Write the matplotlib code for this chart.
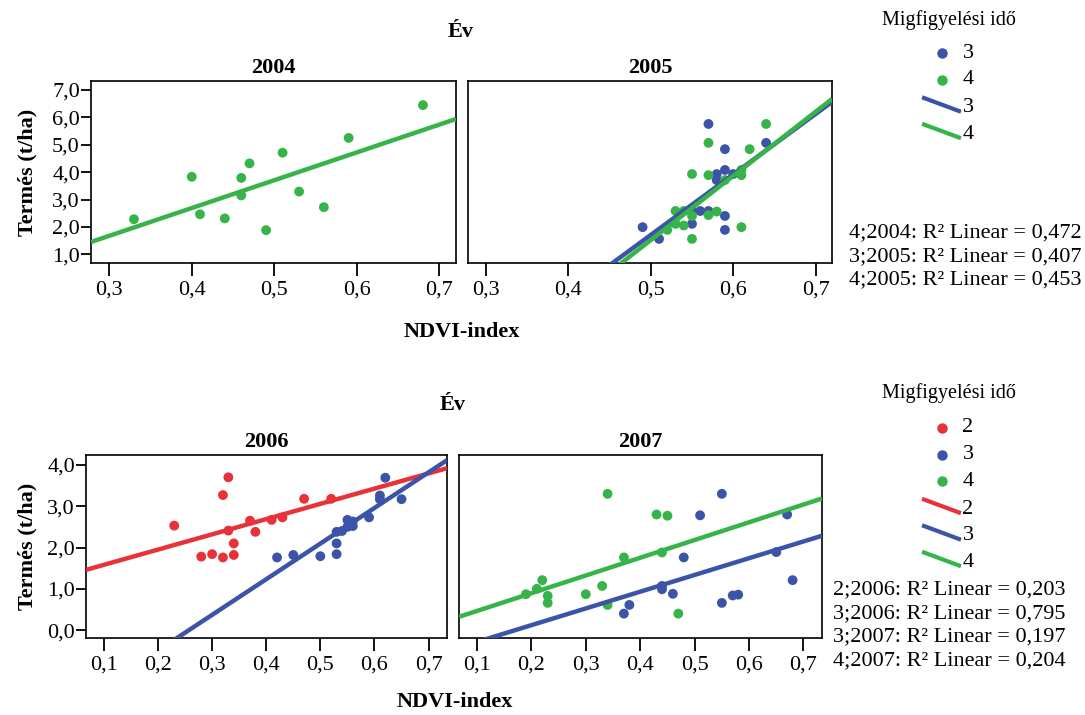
import numpy as np
import matplotlib
matplotlib.use("Agg")
import matplotlib.pyplot as plt
from matplotlib.lines import Line2D
from matplotlib.ticker import FuncFormatter

plt.rcParams["font.family"] = ["Liberation Serif", "DejaVu Serif"]

# --- data ---
ndvi_2004_4 = [0.33, 0.40, 0.41, 0.44, 0.46, 0.46, 0.47, 0.49, 0.51, 0.53, 0.56, 0.59, 0.68]
yield_2004_4 = [2.28, 3.83, 2.46, 2.31, 3.79, 3.15, 4.32, 1.88, 4.71, 3.29, 2.72, 5.25, 6.45]

ndvi_2005_3 = [0.49, 0.51, 0.55, 0.55, 0.56, 0.57, 0.57, 0.58, 0.58, 0.59, 0.59, 0.59, 0.59, 0.60, 0.64]
yield_2005_3 = [1.99, 1.56, 2.11, 2.58, 2.58, 2.58, 5.76, 3.93, 3.71, 4.84, 4.08, 2.40, 1.89, 3.93, 5.07]

ndvi_2005_4 = [0.52, 0.53, 0.53, 0.54, 0.54, 0.55, 0.55, 0.55, 0.57, 0.57, 0.57, 0.58, 0.59, 0.61, 0.61, 0.61, 0.62, 0.64]
yield_2005_4 = [1.89, 2.58, 2.11, 2.58, 2.05, 3.93, 2.40, 1.56, 5.07, 3.89, 2.43, 2.56, 3.71, 4.08, 3.89, 1.99, 4.84, 5.76]

ndvi_2006_2 = [0.23, 0.28, 0.30, 0.32, 0.32, 0.33, 0.33, 0.34, 0.34, 0.37, 0.38, 0.41, 0.43, 0.47, 0.52]
yield_2006_2 = [2.53, 1.78, 1.84, 3.27, 1.76, 3.70, 2.41, 2.10, 1.82, 2.65, 2.38, 2.67, 2.73, 3.18, 3.18]

ndvi_2006_3 = [0.42, 0.45, 0.50, 0.53, 0.53, 0.53, 0.54, 0.55, 0.55, 0.56, 0.56, 0.59, 0.61, 0.61, 0.62, 0.65]
yield_2006_3 = [1.76, 1.82, 1.79, 1.84, 2.10, 2.38, 2.40, 2.67, 2.50, 2.63, 2.52, 2.73, 3.26, 3.17, 3.69, 3.17]

ndvi_2007_3 = [0.37, 0.38, 0.44, 0.44, 0.46, 0.48, 0.51, 0.55, 0.55, 0.57, 0.58, 0.65, 0.67, 0.68]
yield_2007_3 = [0.40, 0.61, 1.07, 0.99, 0.88, 1.76, 2.78, 3.30, 0.66, 0.84, 0.86, 1.89, 2.80, 1.21]

ndvi_2007_4 = [0.19, 0.21, 0.22, 0.23, 0.23, 0.30, 0.33, 0.34, 0.34, 0.37, 0.43, 0.44, 0.45, 0.47]
yield_2007_4 = [0.87, 1.00, 1.21, 0.83, 0.66, 0.87, 1.07, 3.30, 0.61, 1.76, 2.80, 1.88, 2.77, 0.40]

r2_top = ["4;2004: R² Linear = 0,472", "3;2005: R² Linear = 0,407", "4;2005: R² Linear = 0,453"]
r2_bottom = ["2;2006: R² Linear = 0,203", "3;2006: R² Linear = 0,795",
             "3;2007: R² Linear = 0,197", "4;2007: R² Linear = 0,204"]

colors = {"2": "#e8323a", "3": "#3b54a8", "4": "#36b44a"}

W, H = 1085, 715
fig = plt.figure(figsize=(W / 100, H / 100), dpi=100)


def px_axes(x0, y0, x1, y1):
    return fig.add_axes([x0 / W, 1 - y1 / H, (x1 - x0) / W, (y1 - y0) / H])


comma = FuncFormatter(lambda v, p: f"{v:.1f}".replace(".", ","))


def style(ax, xlim, ylim, xticks, yticks, show_y):
    ax.set_xlim(*xlim)
    ax.set_ylim(*ylim)
    ax.set_xticks(xticks)
    ax.set_yticks(yticks)
    ax.xaxis.set_major_formatter(comma)
    ax.yaxis.set_major_formatter(comma)
    ax.tick_params(axis="x", direction="out", length=9.5, width=1.3, labelsize=16, pad=3)
    ax.tick_params(axis="y", direction="out", length=7, width=1.3, labelsize=16, pad=1)
    if not show_y:
        ax.tick_params(axis="y", left=False, labelleft=False)
    for s in ax.spines.values():
        s.set_linewidth(1.2)


def panel(ax, groups):
    x0, x1 = ax.get_xlim()
    xs = np.array([x0, x1])
    for key, xv, yv in groups:
        ax.scatter(xv, yv, s=50, color=colors[key], edgecolors="none", zorder=2)
    for key, xv, yv in groups:
        k, b = np.polyfit(xv, yv, 1)
        ax.plot(xs, k * xs + b, color=colors[key], lw=3.2, zorder=3, solid_capstyle="butt")


# top row
top_xlim = (0.278, 0.72)
top_ylim = (0.68, 7.33)
ax1 = px_axes(91, 81, 456, 263)
ax2 = px_axes(468, 81, 832, 263)
for ax, show in ((ax1, True), (ax2, False)):
    style(ax, top_xlim, top_ylim, [0.3, 0.4, 0.5, 0.6, 0.7], [1, 2, 3, 4, 5, 6, 7], show)
panel(ax1, [("4", ndvi_2004_4, yield_2004_4)])
panel(ax2, [("3", ndvi_2005_3, yield_2005_3), ("4", ndvi_2005_4, yield_2005_4)])

# bottom row
bot_xlim = (0.067, 0.734)
bot_ylim = (-0.19, 4.24)
ax3 = px_axes(86, 455, 447, 638)
ax4 = px_axes(459, 455, 822, 638)
for ax, show in ((ax3, True), (ax4, False)):
    style(ax, bot_xlim, bot_ylim, [0.1, 0.2, 0.3, 0.4, 0.5, 0.6, 0.7], [0, 1, 2, 3, 4], show)
panel(ax3, [("2", ndvi_2006_2, yield_2006_2), ("3", ndvi_2006_3, yield_2006_3)])
panel(ax4, [("3", ndvi_2007_3, yield_2007_3), ("4", ndvi_2007_4, yield_2007_4)])


def ftext(x, y, s, **kw):
    fig.text(x / W, 1 - y / H, s, **kw)


# titles and axis labels
ftext(461, 32, "Év", ha="center", va="center", fontsize=16, fontweight="bold")
ftext(453, 405, "Év", ha="center", va="center", fontsize=16, fontweight="bold")
for ax, yr, y in ((ax1, "2004", 68), (ax2, "2005", 68), (ax3, "2006", 442), (ax4, "2007", 442)):
    bb = ax.get_position()
    fig.text((bb.x0 + bb.x1) / 2, 1 - y / H, yr, ha="center", va="center",
             fontsize=16, fontweight="bold")
ftext(462, 332, "NDVI-index", ha="center", va="center", fontsize=16, fontweight="bold")
ftext(455, 702, "NDVI-index", ha="center", va="center", fontsize=16, fontweight="bold")
ftext(27, 172, "Termés (t/ha)", ha="center", va="center", rotation=90, fontsize=16, fontweight="bold")
ftext(27, 546, "Termés (t/ha)", ha="center", va="center", rotation=90, fontsize=16, fontweight="bold")


# legends drawn by hand (SPSS style)
def legend(title_y, keys, first_y, step):
    ftext(949, title_y, "Migfigyelési idő", ha="center", va="center", fontsize=14.5)
    y = first_y
    for k in keys:
        fig.add_artist(Line2D([942 / W], [1 - y / H], marker="o", ms=6.5, color=colors[k],
                              transform=fig.transFigure, lw=0))
        ftext(968, y, k, ha="center", va="center", fontsize=16)
        y += step
    for k in keys:
        fig.add_artist(Line2D([924 / W, 959 / W], [1 - (y - 8) / H, 1 - (y + 5) / H],
                              color=colors[k], lw=3, transform=fig.transFigure))
        ftext(968, y + 2, k, ha="center", va="center", fontsize=16)
        y += step


legend(20, ["3", "4"], 53, 26.5)
legend(393, ["2", "3", "4"], 428, 26.5)

for i, s in enumerate(r2_top):
    ftext(849, 233 + i * 23.5, s, ha="left", va="center", fontsize=16)
for i, s in enumerate(r2_bottom):
    ftext(833, 590 + i * 23.5, s, ha="left", va="center", fontsize=16)

fig.savefig("out.png", dpi=100, facecolor="white")
